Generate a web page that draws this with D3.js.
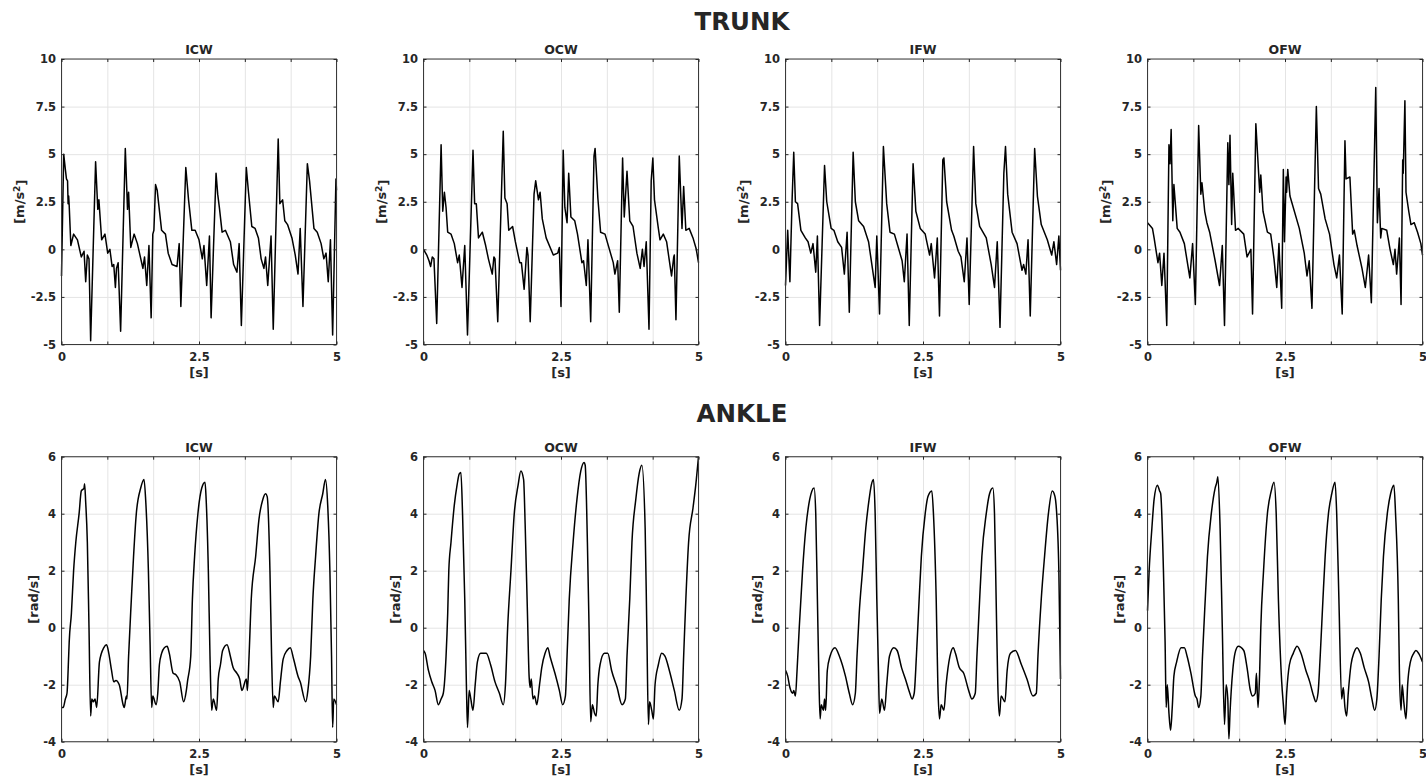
<!DOCTYPE html>
<html>
<head>
<meta charset="utf-8">
<script src="https://cdn.jsdelivr.net/npm/d3@7"></script>
<style>
    body { margin: 0; background: #fff; }
    svg { display: block; }
    text { font-family: 'DejaVu Sans', 'Liberation Sans', sans-serif; font-weight: bold; fill: #262626; }
    .grid line { stroke: #e4e4e4; stroke-width: 1; }
    .grid path { display: none; }
    .tick-axis path { display: none; }
    .tick-axis line { stroke: #262626; }
    .trace { fill: none; stroke: #000; stroke-width: 1.5; stroke-linejoin: round; }
</style>
</head>
<body>
<svg class="chart"></svg>
<script>
// Panel titles and units
var conditions = ['ICW', 'OCW', 'IFW', 'OFW'];
var rowTitles = ['TRUNK', 'ANKLE'];

// Tick values and labels
var xTicks = [0, 5 / 6, 10 / 6, 2.5, 20 / 6, 25 / 6, 5];
var xTickLabels = ['0', '', '', '2.5', '', '', '5'];
var trunkTicks = [-5, -2.5, 0, 2.5, 5, 7.5, 10];
var ankleTicks = [-4, -2, 0, 2, 4, 6];

// Trunk acceleration [t (s), value (m/s^2)]
var trunkICW = [[0,-1.4],[0.04,5],[0.07,4.2],[0.09,3.7],[0.11,3.6],[0.12,2.4],[0.13,2.8],[0.14,2.3],[0.17,0.2],[0.22,0.8],[0.29,0.5],[0.36,-0.4],[0.41,-0.1],[0.44,-1.7],[0.47,-0.3],[0.5,-0.5],[0.53,-4.8],[0.62,4.6],[0.66,2.1],[0.68,2.6],[0.73,0.5],[0.79,0.8],[0.84,-0.2],[0.88,0],[0.92,-0.9],[0.95,-0.8],[0.98,-2],[1.0,-1],[1.03,-0.7],[1.075,-4.3],[1.16,5.3],[1.2,2.1],[1.22,3.0],[1.26,0.1],[1.32,0.8],[1.38,0.3],[1.48,-1.0],[1.51,-0.4],[1.55,-1.9],[1.59,0.2],[1.63,-3.6],[1.66,0.8],[1.68,1.0],[1.71,3.4],[1.74,3.1],[1.82,1.0],[1.89,0.8],[1.94,-0.2],[2.01,-0.8],[2.1,-0.9],[2.14,0.3],[2.17,-3.0],[2.26,4.3],[2.31,2.6],[2.37,1.0],[2.43,1.0],[2.5,0.5],[2.56,-0.5],[2.59,0.2],[2.64,-1.9],[2.69,0.7],[2.72,-3.6],[2.81,4.0],[2.84,2.9],[2.87,2.2],[2.92,0.9],[2.98,1.0],[3.07,0.4],[3.13,-0.8],[3.19,-1.2],[3.23,0.3],[3.27,-4.0],[3.36,4.3],[3.4,3.0],[3.46,1.2],[3.52,1.1],[3.58,0.6],[3.63,-0.5],[3.68,-1.0],[3.71,-0.4],[3.75,-1.9],[3.81,0.7],[3.85,-4.2],[3.94,5.8],[3.97,2.4],[4.02,2.6],[4.06,1.5],[4.11,1.3],[4.19,0.6],[4.25,-0.3],[4.3,-1.3],[4.34,1.1],[4.39,-3.0],[4.47,4.5],[4.51,3.6],[4.59,1.1],[4.65,0.9],[4.72,0.3],[4.77,-0.5],[4.81,-0.2],[4.85,-1.7],[4.89,0.5],[4.93,-4.5],[4.99,3.7],[5.0,3.1]];
var trunkOCW = [[0,0],[0.06,-0.3],[0.1,-0.6],[0.13,-0.9],[0.16,-0.4],[0.19,-0.5],[0.24,-3.9],[0.32,5.5],[0.35,2.0],[0.38,3.0],[0.41,2.2],[0.44,0.9],[0.5,0.8],[0.56,0.3],[0.62,-0.7],[0.65,-0.3],[0.7,-2.0],[0.75,0.2],[0.8,-4.5],[0.9,5.2],[0.93,2.4],[0.96,2.4],[1.0,0.6],[1.07,0.9],[1.13,0.2],[1.18,-0.5],[1.25,-1.3],[1.28,-0.4],[1.3,-0.5],[1.35,-3.8],[1.45,6.2],[1.48,2.7],[1.52,2.4],[1.55,1.0],[1.62,1.2],[1.67,0.4],[1.75,-0.7],[1.78,-0.7],[1.83,-2.1],[1.88,0.1],[1.9,-0.3],[1.94,-3.8],[2.01,2.9],[2.04,3.6],[2.09,2.6],[2.12,3.0],[2.16,1.6],[2.23,0.6],[2.36,-0.3],[2.44,-0.2],[2.47,0.1],[2.5,-3.0],[2.54,5.2],[2.57,2.2],[2.61,1.4],[2.64,4.0],[2.68,1.7],[2.75,1.5],[2.8,0.8],[2.88,-0.7],[2.91,-0.6],[2.96,-1.9],[2.99,0.5],[3.04,-3.8],[3.1,4.9],[3.12,5.3],[3.17,2.7],[3.22,0.9],[3.3,0.8],[3.45,-0.7],[3.48,-1.3],[3.53,-0.6],[3.56,-3.3],[3.62,4.8],[3.65,1.7],[3.7,4.1],[3.75,1.5],[3.81,1.2],[3.88,-0.2],[3.94,-1.0],[3.98,0.0],[4.01,-0.9],[4.05,0.4],[4.1,-4.2],[4.14,3.6],[4.17,4.8],[4.2,2.6],[4.27,1.1],[4.3,0.5],[4.36,0.8],[4.42,0.4],[4.51,-1.4],[4.55,-0.4],[4.56,-0.3],[4.59,-3.7],[4.65,4.9],[4.7,1.1],[4.73,3.3],[4.77,1.0],[4.83,1.1],[4.9,0.6],[4.96,0.0],[5.0,-0.7]];
var trunkIFW = [[0,-1.9],[0.04,1.0],[0.08,-1.7],[0.12,2.6],[0.15,5.1],[0.18,2.5],[0.22,2.4],[0.28,1.0],[0.36,0.6],[0.41,0.4],[0.46,-0.2],[0.5,0.3],[0.55,-1.2],[0.58,0.7],[0.62,-4.0],[0.71,4.4],[0.75,2.5],[0.83,1.1],[0.88,1.0],[0.95,0.4],[1.02,0.1],[1.07,-1.3],[1.12,0.9],[1.16,-3.3],[1.23,5.1],[1.27,2.5],[1.33,1.5],[1.42,1.2],[1.51,0.4],[1.55,-0.4],[1.63,-2.0],[1.66,0.7],[1.71,-3.4],[1.78,5.4],[1.84,2.4],[1.9,0.9],[1.98,0.8],[2.04,0.2],[2.12,-0.6],[2.16,-1.7],[2.21,0.8],[2.25,-4.0],[2.32,4.5],[2.37,2.0],[2.45,1.1],[2.54,0.8],[2.62,-0.3],[2.65,0.3],[2.71,-1.5],[2.76,0.6],[2.8,-3.5],[2.86,4.7],[2.88,4.8],[2.93,2.5],[3.02,1.0],[3.06,0.7],[3.14,-0.1],[3.19,-0.4],[3.25,-1.7],[3.3,0.6],[3.34,-2.9],[3.42,5.4],[3.46,2.4],[3.53,1.2],[3.65,0.6],[3.74,-0.8],[3.8,-2.0],[3.85,0.4],[3.9,-4.1],[3.97,4.0],[4.0,5.4],[4.04,2.9],[4.12,0.9],[4.21,0.3],[4.3,-1.1],[4.33,-0.8],[4.37,-1.3],[4.41,0.5],[4.45,-3.5],[4.53,5.3],[4.58,2.8],[4.65,1.3],[4.76,0.5],[4.84,-0.3],[4.88,0.4],[4.93,-0.8],[4.97,0.7],[5.0,-1.1]];
var trunkOFW = [[0,1.4],[0.06,1.2],[0.09,1.1],[0.12,0.6],[0.19,-0.7],[0.22,-0.2],[0.26,-1.9],[0.3,-0.2],[0.35,-4.0],[0.39,5.5],[0.41,4.5],[0.43,6.3],[0.46,1.5],[0.48,3.4],[0.54,1.1],[0.59,0.9],[0.67,0.3],[0.77,-1.5],[0.82,0.3],[0.87,-2.9],[0.93,6.5],[0.97,2.9],[0.99,3.5],[1.04,2.0],[1.08,1.4],[1.13,0.9],[1.23,-0.6],[1.31,-1.9],[1.36,0.2],[1.4,-4.0],[1.46,5.6],[1.48,3.4],[1.5,6.0],[1.53,1.3],[1.55,4.0],[1.6,1.0],[1.65,1.1],[1.75,0.8],[1.81,-0.4],[1.88,0.0],[1.91,-3.4],[1.97,6.6],[2.04,3.0],[2.06,3.9],[2.1,2.0],[2.18,0.9],[2.24,0.8],[2.3,-0.5],[2.35,-2.0],[2.39,0.3],[2.44,-3.1],[2.47,4.2],[2.49,0.4],[2.52,3.8],[2.53,3.0],[2.55,4.2],[2.59,2.8],[2.76,1.1],[2.85,-0.2],[2.9,-1.4],[2.94,-0.6],[2.99,-3.1],[3.07,7.5],[3.11,3.2],[3.15,2.9],[3.23,1.6],[3.31,0.8],[3.39,-0.8],[3.44,-1.5],[3.49,-0.3],[3.54,-3.4],[3.59,5.7],[3.61,3.7],[3.68,3.8],[3.73,0.8],[3.76,1.0],[3.81,0.2],[3.9,-1.0],[3.96,-2.0],[4.0,-0.9],[4.02,-0.3],[4.07,-2.8],[4.15,8.5],[4.18,1.4],[4.21,3.2],[4.24,0.6],[4.26,1.1],[4.35,1.0],[4.41,0.0],[4.47,-0.8],[4.5,0.0],[4.53,-1.3],[4.58,0.6],[4.61,-2.9],[4.64,4.7],[4.65,4.0],[4.68,7.8],[4.7,3.0],[4.75,2.0],[4.79,1.3],[4.85,1.4],[4.91,0.9],[4.97,0.3],[5.0,-0.3]];

// Ankle angular velocity [t (s), value (rad/s)]
var ankleICW = [[0,-2.8],[0.03,-2.8],[0.07,-2.5],[0.1,-2.3],[0.13,-1.0],[0.14,-0.5],[0.18,0.5],[0.22,2.0],[0.26,3.0],[0.32,4.0],[0.36,4.8],[0.41,4.9],[0.42,5.05],[0.44,4.4],[0.47,3.0],[0.5,0.0],[0.53,-3.1],[0.55,-2.5],[0.58,-2.6],[0.61,-2.5],[0.64,-2.8],[0.69,-1.2],[0.77,-0.7],[0.82,-0.6],[0.86,-0.9],[0.91,-1.5],[0.95,-1.9],[0.99,-1.85],[1.05,-2.0],[1.12,-2.7],[1.14,-2.8],[1.18,-2.4],[1.19,-2.5],[1.22,-1.0],[1.27,1.0],[1.31,2.5],[1.36,4.0],[1.44,4.9],[1.5,5.2],[1.53,4.5],[1.58,2.0],[1.61,-0.5],[1.64,-2.8],[1.66,-2.4],[1.72,-2.7],[1.75,-2.3],[1.78,-1.3],[1.82,-0.9],[1.87,-0.7],[1.92,-0.65],[1.96,-0.9],[2.03,-1.6],[2.08,-1.65],[2.15,-1.9],[2.22,-2.6],[2.27,-2.2],[2.29,-1.9],[2.35,-1.0],[2.38,1.0],[2.42,2.5],[2.48,4.0],[2.55,4.9],[2.61,5.1],[2.63,4.5],[2.67,2.0],[2.7,-1.0],[2.73,-2.9],[2.76,-2.5],[2.82,-2.9],[2.85,-1.8],[2.89,-1.3],[2.93,-0.8],[3.01,-0.6],[3.07,-1.0],[3.12,-1.4],[3.19,-1.6],[3.24,-1.8],[3.28,-2.2],[3.36,-1.8],[3.38,-2.2],[3.41,-1.0],[3.45,1.0],[3.53,2.5],[3.59,3.8],[3.66,4.5],[3.71,4.7],[3.74,4.6],[3.79,2.0],[3.82,-1.0],[3.85,-2.8],[3.87,-2.4],[3.94,-2.6],[3.98,-1.9],[4.03,-1.1],[4.1,-0.8],[4.16,-0.7],[4.22,-1.1],[4.3,-1.7],[4.34,-1.9],[4.44,-2.6],[4.48,-2.2],[4.53,-1.0],[4.57,1.0],[4.62,2.5],[4.68,4.0],[4.75,4.7],[4.8,5.2],[4.84,4.3],[4.88,2.0],[4.91,-1.0],[4.93,-3.5],[4.95,-2.5],[5.0,-2.7]];
var ankleOCW = [[0,-0.8],[0.03,-0.9],[0.09,-1.5],[0.15,-1.9],[0.21,-2.2],[0.27,-2.7],[0.32,-2.5],[0.36,-2.3],[0.41,-1.0],[0.44,0.5],[0.46,2.0],[0.5,3.0],[0.56,4.3],[0.61,5.0],[0.65,5.4],[0.68,5.45],[0.71,4.0],[0.75,1.0],[0.78,-2.0],[0.8,-3.5],[0.83,-2.2],[0.86,-2.5],[0.9,-2.9],[0.94,-2.0],[0.98,-1.2],[1.04,-0.9],[1.14,-0.9],[1.22,-1.3],[1.3,-1.9],[1.38,-2.3],[1.45,-2.7],[1.49,-2.0],[1.53,0.0],[1.59,2.0],[1.65,4.0],[1.72,5.0],[1.77,5.5],[1.82,5.2],[1.85,3.5],[1.89,0.5],[1.92,-1.7],[1.94,-2.1],[1.96,-1.8],[1.99,-2.5],[2.02,-2.4],[2.06,-2.7],[2.11,-2.0],[2.15,-1.4],[2.21,-0.9],[2.26,-0.7],[2.3,-1.0],[2.39,-1.6],[2.47,-2.2],[2.53,-2.7],[2.58,-2.4],[2.61,-1.0],[2.65,1.0],[2.72,3.0],[2.79,4.5],[2.86,5.5],[2.92,5.8],[2.94,5.7],[2.98,3.0],[3.01,0.0],[3.04,-3.3],[3.07,-2.7],[3.11,-3.0],[3.14,-3.1],[3.17,-2.0],[3.21,-1.3],[3.29,-0.9],[3.35,-0.9],[3.42,-1.5],[3.52,-2.1],[3.61,-2.7],[3.67,-2.5],[3.7,-1.0],[3.75,1.0],[3.79,3.0],[3.86,4.5],[3.92,5.4],[3.97,5.7],[4.03,3.5],[4.06,0.0],[4.09,-3.4],[4.11,-2.6],[4.15,-2.9],[4.18,-3.2],[4.21,-2.0],[4.27,-1.3],[4.33,-0.9],[4.39,-1.0],[4.47,-1.5],[4.56,-2.2],[4.65,-2.9],[4.7,-2.5],[4.73,-1.0],[4.77,1.0],[4.82,3.0],[4.9,4.2],[4.95,5.0],[5.0,6.0]];
var ankleIFW = [[0,-1.5],[0.04,-1.7],[0.08,-2.1],[0.13,-2.3],[0.15,-2.2],[0.18,-2.4],[0.21,-1.5],[0.25,0.0],[0.31,2.0],[0.37,3.5],[0.44,4.5],[0.48,4.8],[0.52,4.9],[0.55,4.0],[0.58,1.0],[0.61,-2.0],[0.63,-3.2],[0.65,-2.7],[0.69,-2.9],[0.71,-2.5],[0.73,-2.9],[0.76,-1.5],[0.81,-1.0],[0.9,-0.7],[0.98,-1.0],[1.09,-1.7],[1.16,-2.3],[1.22,-2.7],[1.27,-2.3],[1.3,-1.0],[1.34,0.5],[1.4,2.0],[1.46,3.5],[1.52,4.5],[1.56,5.0],[1.6,5.2],[1.63,4.0],[1.66,1.0],[1.69,-1.5],[1.71,-3.0],[1.75,-2.5],[1.8,-2.9],[1.84,-2.0],[1.89,-1.0],[1.97,-0.7],[2.03,-0.8],[2.11,-1.4],[2.18,-1.8],[2.26,-2.3],[2.3,-2.5],[2.34,-2.3],[2.38,-1.0],[2.43,1.0],[2.47,2.5],[2.54,4.0],[2.59,4.6],[2.66,4.8],[2.69,4.0],[2.74,1.0],[2.77,-2.0],[2.8,-3.2],[2.83,-2.7],[2.88,-2.9],[2.92,-2.0],[2.99,-1.0],[3.05,-0.7],[3.09,-0.9],[3.16,-1.4],[3.24,-1.6],[3.33,-2.2],[3.39,-2.5],[3.45,-2.3],[3.48,-1.0],[3.53,1.0],[3.57,2.5],[3.65,4.0],[3.71,4.7],[3.77,4.9],[3.8,4.0],[3.83,1.0],[3.86,-2.0],[3.89,-3.1],[3.92,-2.4],[3.99,-2.6],[4.03,-1.5],[4.09,-0.9],[4.18,-0.8],[4.29,-1.3],[4.39,-1.8],[4.5,-2.4],[4.56,-2.3],[4.59,-1.0],[4.65,1.0],[4.71,2.5],[4.78,4.0],[4.85,4.8],[4.9,4.6],[4.92,4.3],[4.97,2.0],[5.0,-1.8]];
var ankleOFW = [[0,0.6],[0.03,2.0],[0.08,3.5],[0.12,4.5],[0.18,5.0],[0.22,4.8],[0.24,4.7],[0.29,2.0],[0.32,-0.5],[0.34,-2.8],[0.36,-2.0],[0.39,-3.0],[0.42,-3.6],[0.45,-2.8],[0.48,-1.7],[0.53,-1.2],[0.61,-0.7],[0.67,-0.7],[0.72,-1.0],[0.79,-1.6],[0.87,-2.4],[0.9,-2.5],[0.93,-2.8],[0.97,-2.4],[1.0,-1.0],[1.05,1.0],[1.09,2.5],[1.16,4.0],[1.23,4.9],[1.26,5.1],[1.28,5.3],[1.32,3.5],[1.36,0.0],[1.4,-3.4],[1.43,-2.0],[1.46,-2.5],[1.48,-3.9],[1.5,-3.0],[1.55,-1.5],[1.59,-0.9],[1.65,-0.65],[1.75,-0.8],[1.81,-1.4],[1.87,-2.2],[1.91,-2.4],[1.96,-2.3],[1.98,-1.6],[2.01,-2.8],[2.04,-1.5],[2.06,0.0],[2.11,2.0],[2.18,4.0],[2.25,4.8],[2.3,5.1],[2.34,4.0],[2.38,1.0],[2.44,-1.9],[2.47,-2.7],[2.5,-3.4],[2.53,-2.3],[2.58,-1.3],[2.65,-0.9],[2.72,-0.65],[2.79,-0.9],[2.88,-1.5],[2.95,-1.9],[3.02,-2.4],[3.06,-2.6],[3.1,-2.3],[3.14,-1.0],[3.19,1.0],[3.23,2.5],[3.29,4.0],[3.35,4.7],[3.41,5.1],[3.44,4.0],[3.48,1.0],[3.53,-2.5],[3.56,-2.1],[3.59,-2.8],[3.62,-3.1],[3.65,-2.3],[3.7,-1.3],[3.75,-0.9],[3.81,-0.7],[3.87,-0.9],[3.94,-1.4],[4.02,-1.9],[4.08,-2.5],[4.13,-2.9],[4.17,-2.5],[4.21,-1.0],[4.25,1.0],[4.29,2.5],[4.36,4.0],[4.42,4.7],[4.48,5.0],[4.51,4.0],[4.56,1.0],[4.58,-1.5],[4.61,-2.9],[4.63,-2.0],[4.66,-2.6],[4.7,-3.2],[4.73,-2.0],[4.78,-1.2],[4.84,-0.9],[4.88,-0.8],[4.93,-0.9],[5.0,-1.2]];

// Layout
var width = 1426,
    height = 784;
var lefts = [61.5, 423.5, 785.5, 1147.5],
    pw = 275;

var rows = [
    { title: rowTitles[0], top: 59, ph: 285.5, domain: [-5, 10], ticks: trunkTicks, unit: 'm/s', sup: '2', labelOff: 42, titleY: 29.5,
      series: [trunkICW, trunkOCW, trunkIFW, trunkOFW], curve: d3.curveLinear },
    { title: rowTitles[1], top: 456.7, ph: 285, domain: [-4, 6], ticks: ankleTicks, unit: 'rad/s', sup: null, labelOff: 28.5, titleY: 421.7,
      series: [ankleICW, ankleOCW, ankleIFW, ankleOFW], curve: d3.curveMonotoneX }
];

var svg = d3.select('.chart').attr('width', width).attr('height', height);

var centerX = (lefts[0] + lefts[3] + pw) / 2;

rows.forEach(function (row) {
    // Row heading
    svg.append('text')
        .attr('x', centerX)
        .attr('y', row.titleY)
        .attr('text-anchor', 'middle')
        .style('font-size', '24.5px')
        .text(row.title);

    row.series.forEach(function (data, i) {
        var ph = row.ph;
        var g = svg.append('g').attr('transform', 'translate(' + lefts[i] + ',' + row.top + ')');

        var x = d3.scaleLinear().domain([0, 5]).range([0, pw]);
        var y = d3.scaleLinear().domain(row.domain).range([ph, 0]);

        // gridlines
        g.append('g').attr('class', 'grid')
            .call(d3.axisBottom(x).tickValues(xTicks).tickSize(ph).tickFormat(''));
        g.append('g').attr('class', 'grid')
            .call(d3.axisRight(y).tickValues(row.ticks).tickSize(pw).tickFormat(''));

        // the trace
        var line = d3.line()
            .x(function (d) { return x(d[0]); })
            .y(function (d) { return y(d[1]); })
            .curve(row.curve);
        g.append('path').datum(data).attr('class', 'trace').attr('d', line);

        // box
        g.append('rect')
            .attr('width', pw).attr('height', ph)
            .attr('fill', 'none').attr('stroke', '#3a3a3a').attr('stroke-width', 1);

        // axes with inward ticks
        var xAxis = d3.axisBottom(x).tickValues(xTicks).tickSizeInner(-3).tickSizeOuter(0).tickPadding(8.5)
            .tickFormat(function (d, k) { return xTickLabels[k]; });
        g.append('g').attr('class', 'tick-axis').attr('transform', 'translate(0,' + ph + ')').call(xAxis)
            .selectAll('text').style('font-size', '11.5px').attr('fill', '#262626');
        g.append('g').attr('class', 'tick-axis')
            .call(d3.axisTop(x).tickValues(xTicks).tickSizeInner(-3).tickSizeOuter(0).tickFormat(''));

        var yAxis = d3.axisLeft(y).tickValues(row.ticks).tickSizeInner(-3).tickSizeOuter(0).tickPadding(5.5)
            .tickFormat(function (d) { return String(d); });
        g.append('g').attr('class', 'tick-axis').call(yAxis)
            .selectAll('text').style('font-size', '11.5px').attr('fill', '#262626');
        g.append('g').attr('class', 'tick-axis').attr('transform', 'translate(' + pw + ',0)')
            .call(d3.axisRight(y).tickValues(row.ticks).tickSizeInner(-3).tickSizeOuter(0).tickFormat(''));

        // panel title
        g.append('text')
            .attr('x', pw / 2)
            .attr('y', -5)
            .attr('text-anchor', 'middle')
            .style('font-size', '12.5px')
            .text(conditions[i]);

        // x label
        g.append('text')
            .attr('x', pw / 2)
            .attr('y', ph + 32.5)
            .attr('text-anchor', 'middle')
            .style('font-size', '13px')
            .text('[s]');

        // y label
        var yl = g.append('text')
            .attr('transform', 'translate(' + (-row.labelOff) + ',' + ph / 2 + ') rotate(-90)')
            .attr('text-anchor', 'middle')
            .attr('dy', '0.35em')
            .style('font-size', '13px');
        yl.append('tspan').text('[' + row.unit);
        if (row.sup) {
            yl.append('tspan').attr('dy', '-0.45em').style('font-size', '9px').text(row.sup);
            yl.append('tspan').attr('dy', '0.45em').text(']');
        } else {
            yl.append('tspan').text(']');
        }
    });
});
</script>
</body>
</html>
